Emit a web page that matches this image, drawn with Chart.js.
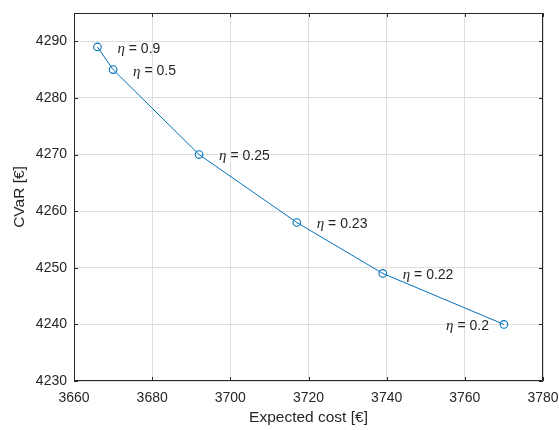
<!DOCTYPE html>
<html>
<head>
<meta charset="utf-8">
<script src="https://cdn.jsdelivr.net/npm/chart.js@4.4.0/dist/chart.umd.min.js"></script>
<style>
  body { margin: 0; background: #fff; }
  #wrap { width: 559px; height: 430px; }
</style>
</head>
<body>
<div id="wrap"><canvas id="grafico" width="559" height="430"></canvas></div>
<script>
// ---------- DADOS ----------
const custoEsperado = [3666, 3670, 3692, 3717, 3739, 3770];
const cvar = [4289, 4285, 4270, 4258, 4249, 4240];
const rotulosEta = ["0.9", "0.5", "0.25", "0.23", "0.22", "0.2"];
const ticksX = [3660, 3680, 3700, 3720, 3740, 3760, 3780];
const ticksY = [4230, 4240, 4250, 4260, 4270, 4280, 4290];

const corTexto = "#262626";
const corLinha = "#0072BD";

// caixa + ticks para dentro (estilo MATLAB)
const caixaPlugin = {
  id: "caixa",
  afterDraw(chart) {
    const { ctx, chartArea: a, scales } = chart;
    ctx.save();
    ctx.strokeStyle = corTexto;
    ctx.lineWidth = 1;
    ctx.beginPath();
    ctx.rect(a.left + 0.5, a.top + 0.5, a.right - a.left - 1, a.bottom - a.top - 1);
    ctx.stroke();

    const t = 4;
    ctx.beginPath();
    ticksX.forEach(v => {
      const x = Math.round(scales.x.getPixelForValue(v)) + 0.5;
      ctx.moveTo(x, a.bottom); ctx.lineTo(x, a.bottom - t);
      ctx.moveTo(x, a.top); ctx.lineTo(x, a.top + t);
    });
    ticksY.forEach(v => {
      const y = Math.round(scales.y.getPixelForValue(v)) + 0.5;
      ctx.moveTo(a.left, y); ctx.lineTo(a.left + t, y);
      ctx.moveTo(a.right, y); ctx.lineTo(a.right - t, y);
    });
    ctx.stroke();
    ctx.restore();
  }
};

// rótulos η = ...
const rotulosPlugin = {
  id: "rotulos",
  afterDatasetsDraw(chart) {
    const { ctx, scales } = chart;
    ctx.save();
    ctx.fillStyle = corTexto;
    ctx.textBaseline = "middle";
    custoEsperado.forEach((c, i) => {
      const px = scales.x.getPixelForValue(c);
      const py = scales.y.getPixelForValue(cvar[i]) + 2;
      const etaFont = "italic 15px 'Liberation Serif', serif";
      const restoFont = "14px 'Liberation Sans', Arial, sans-serif";
      const resto = " = " + rotulosEta[i];
      ctx.font = etaFont;
      const wEta = ctx.measureText("η").width;
      ctx.font = restoFont;
      const wResto = ctx.measureText(resto).width;
      let x0 = i === custoEsperado.length - 1 ? px - 15 - wEta - wResto : px + 20;
      ctx.textAlign = "left";
      ctx.font = etaFont;
      ctx.fillText("η", x0, py);
      ctx.font = restoFont;
      ctx.fillText(resto, x0 + wEta, py);
    });
    ctx.restore();
  }
};

const fonte = { family: "'Liberation Sans', Arial", size: 14 };

new Chart(document.getElementById("grafico"), {
  type: "line",
  data: {
    datasets: [{
      data: custoEsperado.map((c, i) => ({ x: c, y: cvar[i] })),
      borderColor: corLinha,
      borderWidth: 1,
      backgroundColor: "transparent",
      pointBorderColor: corLinha,
      pointBackgroundColor: "transparent",
      pointRadius: 3.8,
      pointBorderWidth: 1.1,
      tension: 0,
      fill: false
    }]
  },
  options: {
    responsive: false,
    animation: false,
    layout: { padding: { top: 13, right: 16, left: 0, bottom: 0 } },
    plugins: { legend: { display: false }, tooltip: { enabled: false } },
    scales: {
      x: {
        type: "linear",
        min: 3660, max: 3780,
        afterFit: s => { s.height = 49; s.paddingLeft = 0; s.paddingRight = 0; },
        afterBuildTicks: s => { s.ticks = ticksX.map(v => ({ value: v })); },
        grid: { color: "#dedede", drawTicks: false },
        border: { display: false },
        ticks: { color: corTexto, padding: 9, font: fonte, maxRotation: 0, callback: v => String(v) },
        title: { display: true, text: "Expected cost [€]", color: corTexto,
                 font: { family: "'Liberation Sans', Arial", size: 15.5 }, padding: { top: 0, bottom: 3 } }
      },
      y: {
        min: 4230, max: 4295,
        afterFit: s => { s.width = 74; s.paddingTop = 0; s.paddingBottom = 0; },
        afterBuildTicks: s => { s.ticks = ticksY.map(v => ({ value: v })); },
        grid: { color: "#dedede", drawTicks: false },
        border: { display: false },
        ticks: { color: corTexto, padding: 7, font: fonte, callback: v => String(v) },
        title: { display: true, text: "CVaR [€]", color: corTexto,
                 font: { family: "'Liberation Sans', Arial", size: 15.5 }, padding: { top: 10, bottom: 0 } }
      }
    }
  },
  plugins: [caixaPlugin, rotulosPlugin]
});
</script>
</body>
</html>
